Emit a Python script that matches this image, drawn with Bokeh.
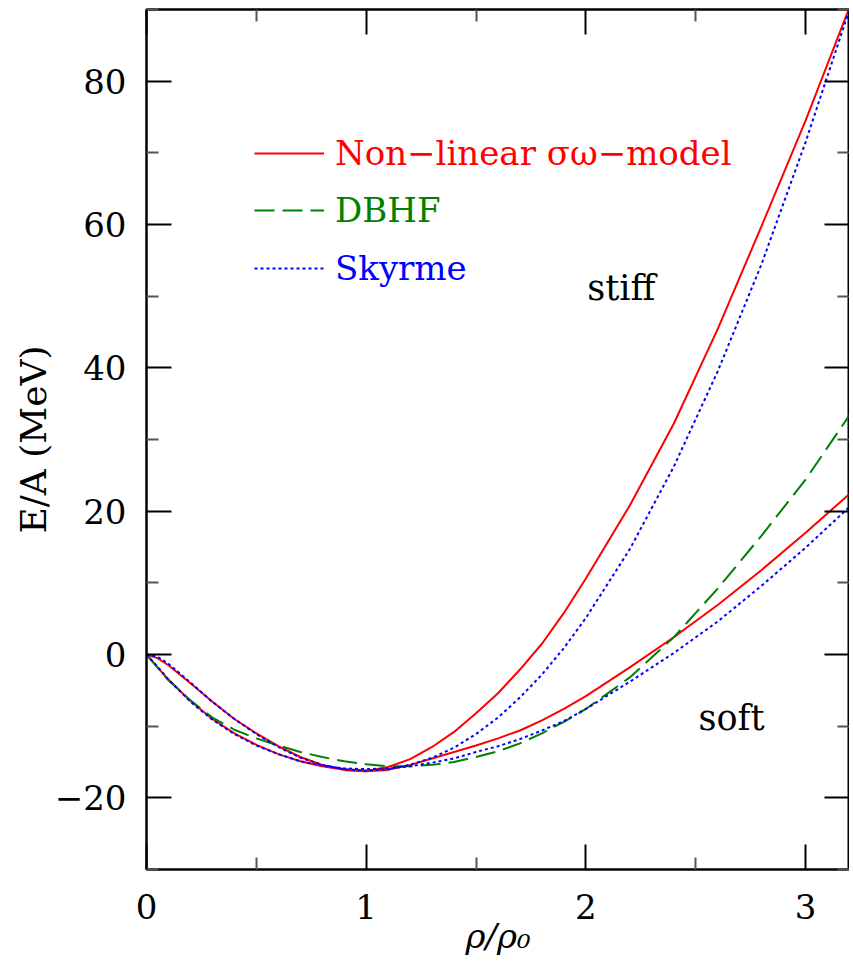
from bokeh.plotting import figure
from bokeh.models import (Range1d, FixedTicker, LinearAxis, Legend, LegendItem, Label,
                          CustomLabelingPolicy)
from bokeh.embed import file_html
from bokeh.resources import INLINE

# ---- data ----
density = [0, 0.05, 0.1, 0.2, 0.3, 0.4, 0.5, 0.6, 0.7, 0.8, 0.9, 1.0, 1.1, 1.2, 1.3,
           1.4, 1.5, 1.6, 1.7, 1.8, 1.9, 2.0, 2.2, 2.4, 2.6, 2.8, 3.0, 3.2]

sigma_omega_stiff = [0, -0.5, -1.5, -4.0, -6.6, -9.0, -11.0, -12.8, -14.3, -15.4, -16.1,
                     -16.3, -15.7, -14.6, -12.9, -10.8, -8.2, -5.4, -2.1, 1.5, 5.8, 10.6,
                     20.8, 32.2, 45.4, 59.8, 74.5, 90.3]
sigma_omega_soft = [0, -1.8, -3.5, -6.5, -9.0, -11.0, -12.6, -13.9, -14.9, -15.6, -16.1,
                    -16.3, -16.1, -15.4, -14.5, -13.6, -12.7, -11.7, -10.6, -9.2, -7.6,
                    -5.8, -1.8, 2.4, 6.9, 11.8, 17.0, 22.4]
dbhf = [0, -1.8, -3.6, -6.4, -8.8, -10.5, -11.7, -12.7, -13.6, -14.3, -14.9, -15.3, -15.6,
        -15.6, -15.4, -15.0, -14.3, -13.5, -12.4, -11.0, -9.4, -7.6, -3.2, 2.4, 9.2, 16.6,
        24.4, 33.4]
skyrme_stiff = [0, -0.3, -1.3, -3.9, -6.6, -9.0, -11.1, -12.9, -14.4, -15.4, -16.0, -16.2,
                -16.0, -15.4, -14.4, -13.0, -11.1, -8.8, -6.0, -2.8, 0.9, 5.1, 14.7, 26.2,
                39.5, 54.5, 71.5, 90.0]
skyrme_soft = [0, -1.7, -3.5, -6.6, -9.1, -11.1, -12.7, -13.9, -14.9, -15.5, -15.9, -16.0,
               -15.9, -15.6, -15.1, -14.5, -13.6, -12.8, -11.8, -10.6, -9.3, -7.6, -3.8,
               0.2, 4.6, 9.6, 14.9, 20.6]

x_major = [0, 1, 2, 3]
x_minor = [0.5, 1.5, 2.5]
y_major = [-20, 0, 20, 40, 60, 80]
y_minor = [-30, -10, 10, 30, 50, 70, 90]
y_labels = {-20: "\u221220", 0: "0", 20: "20", 40: "40", 60: "60", 80: "80"}

names = ["Non\u2212linear \u03c3\u03c9\u2212model", "DBHF", "Skyrme"]
colors = ["#ff0000", "#008000", "#0000ff"]

FONT = "DejaVu Serif"

p = figure(width=849, height=958, output_backend="svg", toolbar_location=None,
           x_range=Range1d(0, 3.2), y_range=Range1d(-30, 90),
           min_border_left=146, min_border_right=0, min_border_top=9, min_border_bottom=80)
p.grid.visible = False
p.outline_line_color = "black"
p.outline_line_width = 2
p.background_fill_color = "white"

no_labels = CustomLabelingPolicy(code="""
try { for (let i = 0; i < indices.size; i++) { indices.unset(i) } } catch (e) {}
return indices
""")


def style_axis(ax, major, minor, show_labels):
    ax.ticker = FixedTicker(ticks=major, minor_ticks=minor)
    ax.major_tick_in = 25
    ax.major_tick_out = 0
    ax.minor_tick_in = 12
    ax.minor_tick_out = 0
    ax.major_tick_line_width = 2
    ax.minor_tick_line_width = 2
    ax.major_tick_line_color = "black"
    ax.minor_tick_line_color = "#555555"
    ax.axis_line_width = 2
    ax.axis_line_color = "black"
    if show_labels:
        ax.major_label_text_font = FONT
        ax.major_label_text_font_size = "34px"
        ax.major_label_text_color = "black"
    else:
        ax.major_label_policy = no_labels
        ax.major_label_text_font_size = "0px"
        ax.major_label_standoff = 0


xb = p.xaxis[0]
yl = p.yaxis[0]
style_axis(xb, x_major, x_minor, True)
style_axis(yl, y_major, y_minor, True)
xb.major_label_standoff = 24
yl.major_label_standoff = 20
yl.major_label_overrides = y_labels
xb.axis_label = "\u03c1/\u03c1\u2080"
xb.axis_label_text_font = FONT
xb.axis_label_text_font_size = "34px"
xb.axis_label_text_font_style = "italic"
xb.axis_label_text_color = "black"
xb.axis_label_standoff = -6
yl.axis_label = "E/A (MeV)"
yl.axis_label_text_font = FONT
yl.axis_label_text_font_size = "36px"
yl.axis_label_text_font_style = "normal"
yl.axis_label_text_color = "black"
yl.axis_label_standoff = -2

top = LinearAxis()
style_axis(top, x_major, x_minor, False)
p.add_layout(top, "above")
right = LinearAxis()
style_axis(right, y_major, y_minor, False)
p.add_layout(right, "right")

r_so_stiff = p.line(density, sigma_omega_stiff, line_color=colors[0], line_width=2)
p.line(density, sigma_omega_soft, line_color=colors[0], line_width=2)
r_dbhf = p.line(density, dbhf, line_color=colors[1], line_width=2, line_dash="20 8")
r_sk_stiff = p.line(density, skyrme_stiff, line_color=colors[2], line_width=2, line_dash="3 3")
p.line(density, skyrme_soft, line_color=colors[2], line_width=2, line_dash="3 3")

for ren, name, col, yoff in zip([r_so_stiff, r_dbhf, r_sk_stiff], names, colors, [696, 639, 581]):
    leg = Legend(items=[LegendItem(label=name, renderers=[ren])],
                 location=(108, yoff), glyph_width=70, glyph_height=30,
                 label_standoff=11, label_text_font=FONT, label_text_font_size="34px",
                 label_text_color=col, background_fill_alpha=0, border_line_alpha=0,
                 padding=0, margin=0, spacing=0, label_height=30)
    p.add_layout(leg, "center")

p.add_layout(Label(x=2.006, y=51.2, text="stiff", text_font=FONT, text_font_size="35px",
                   text_color="black", text_baseline="alphabetic"))
p.add_layout(Label(x=2.513, y=-8.8, text="soft", text_font=FONT, text_font_size="35px",
                   text_color="black", text_baseline="alphabetic"))

open("out.html", "w").write(file_html(p, INLINE))
